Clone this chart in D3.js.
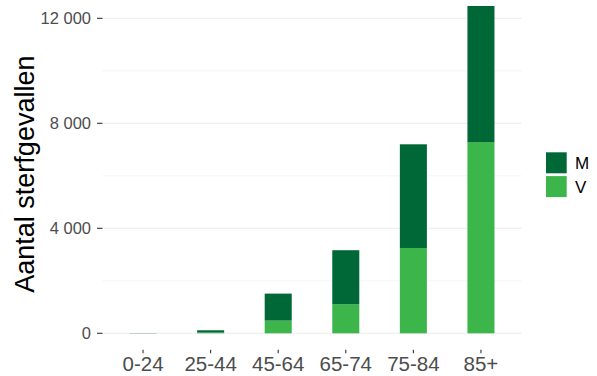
<!DOCTYPE html>
<html>
<head>
<meta charset="utf-8">
<script src="https://cdn.jsdelivr.net/npm/d3@7"></script>
<style>
  html, body { margin: 0; padding: 0; background: #fff; }
  svg { display: block; font-family: "Liberation Sans", Arial, Helvetica, sans-serif; }
</style>
</head>
<body>
<svg id="chart" width="597" height="376"></svg>
<script>
// Age groups and deaths by sex (M = mannen, V = vrouwen)
const ageGroups = ["0-24", "25-44", "45-64", "65-74", "75-84", "85+"];
const deathsV = [4, 30, 484, 1105, 3250, 7285];
const deathsM = [6, 85, 1028, 2060, 3950, 5185];
const sexes = ["M", "V"];
const sexColors = ["#006837", "#3cb54b"];
const yTicks = [0, 4000, 8000, 12000];
const yMinor = [2000, 6000, 10000];
const yTitle = "Aantal sterfgevallen";

const svg = d3.select("#chart");

const panel = { left: 102.5, right: 521.5 };

// Stacked data: V at the bottom, M on top
const rows = ageGroups.map((g, i) => ({ group: g, V: deathsV[i], M: deathsM[i] }));
const stacked = d3.stack().keys(["V", "M"])(rows);
const maxTotal = d3.max(rows, r => r.V + r.M);

// y: 0 at 333.3px, 12000 at 18.3px, panel expanded by 5% of the data range
const y = d3.scaleLinear().domain([0, 12000]).range([333.3, 18.3]);
const panelBottom = y(-0.05 * maxTotal);
const panelTop = y(maxTotal * 1.05);

const x = d3.scaleBand()
  .domain(ageGroups)
  .range([panel.left, panel.right])
  .paddingInner(0.6)
  .paddingOuter(0.4);

const color = d3.scaleOrdinal().domain(sexes).range(sexColors);

// Gridlines
svg.append("g").selectAll("line.minor")
  .data(yMinor).join("line")
  .attr("x1", panel.left).attr("x2", panel.right)
  .attr("y1", d => y(d)).attr("y2", d => y(d))
  .attr("stroke", "#ebebeb").attr("stroke-width", 0.55);

svg.append("g").selectAll("line.major")
  .data(yTicks).join("line")
  .attr("x1", panel.left).attr("x2", panel.right)
  .attr("y1", d => y(d)).attr("y2", d => y(d))
  .attr("stroke", "#ebebeb").attr("stroke-width", 1.1);

// Bars
svg.append("g").selectAll("g")
  .data(stacked).join("g")
  .attr("fill", d => color(d.key))
  .selectAll("rect")
  .data(d => d).join("rect")
  .attr("x", d => x(d.data.group))
  .attr("width", x.bandwidth())
  .attr("y", d => y(d[1]))
  .attr("height", d => y(d[0]) - y(d[1]));

// y axis: ticks and labels
const yAxis = svg.append("g");
yAxis.selectAll("line").data(yTicks).join("line")
  .attr("x1", panel.left - 5.5).attr("x2", panel.left)
  .attr("y1", d => y(d)).attr("y2", d => y(d))
  .attr("stroke", "#333333").attr("stroke-width", 1.1);
yAxis.selectAll("text").data(yTicks).join("text")
  .attr("x", 91).attr("y", d => y(d))
  .attr("dy", "0.36em")
  .attr("text-anchor", "end")
  .attr("font-size", 16.5)
  .attr("fill", "#4d4d4d")
  .text(d => d === 0 ? "0" : d3.format(",")(d).replace(/,/g, " "));

// x axis: ticks and labels
const xAxis = svg.append("g");
xAxis.selectAll("line").data(ageGroups).join("line")
  .attr("x1", d => x(d) + x.bandwidth() / 2).attr("x2", d => x(d) + x.bandwidth() / 2)
  .attr("y1", panelBottom).attr("y2", panelBottom + 3.7)
  .attr("stroke", "#333333").attr("stroke-width", 1.1);
xAxis.selectAll("text").data(ageGroups).join("text")
  .attr("x", d => x(d) + x.bandwidth() / 2)
  .attr("y", 370.7)
  .attr("text-anchor", "middle")
  .attr("font-size", 20.5)
  .attr("fill", "#4d4d4d")
  .text(d => d);

// y title
svg.append("text")
  .attr("transform", `translate(34,${(panelTop + panelBottom) / 2 + 4.5}) rotate(-90)`)
  .attr("text-anchor", "middle")
  .attr("font-size", 27)
  .attr("fill", "#000")
  .text(yTitle);

// Legend
const legend = svg.append("g").attr("transform", "translate(546,152.3)");
const keys = legend.selectAll("g").data(sexes).join("g")
  .attr("transform", (d, i) => `translate(0,${i * 23.8})`);
keys.append("rect")
  .attr("width", 20.7).attr("height", 21)
  .attr("fill", d => color(d));
keys.append("text")
  .attr("x", 29).attr("y", 10.5)
  .attr("dy", "0.36em")
  .attr("font-size", 17)
  .attr("fill", "#000")
  .text(d => d);
</script>
</body>
</html>
